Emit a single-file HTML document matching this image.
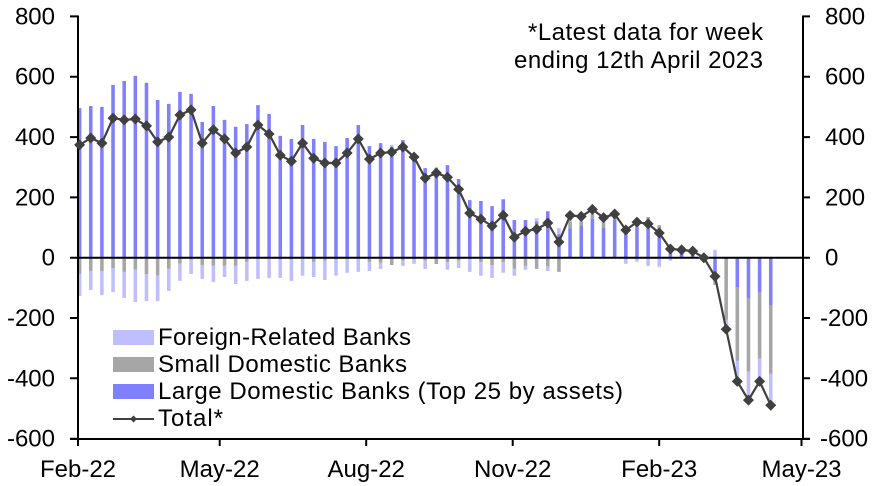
<!DOCTYPE html>
<html><head><meta charset="utf-8"><style>
html,body{margin:0;padding:0;background:#fff}
svg{display:block}
text{font-family:"Liberation Sans",Arial,sans-serif;font-size:24px;fill:#000}
</style></head><body>
<svg width="880" height="486" viewBox="0 0 880 486" xmlns="http://www.w3.org/2000/svg">
<defs>
<marker id="dm" markerUnits="userSpaceOnUse" markerWidth="12" markerHeight="12" refX="6" refY="6" overflow="visible">
<path d="M6,0.5L11.5,6L6,11.5L0.5,6Z" fill="#404040"/>
</marker>
</defs>

<g transform="translate(79.6,257.7) scale(11.1475,-0.30161)">
<path fill="#8080ff" d="M-.16,0h.32v496h-.32zM.84,0h.32v503h-.32zM1.84,0h.32v500h-.32zM2.84,0h.32v573h-.32zM3.84,0h.32v586h-.32zM4.84,0h.32v603h-.32zM5.84,0h.32v580h-.32zM6.84,0h.32v523h-.32zM7.84,0h.32v510h-.32zM8.84,0h.32v550h-.32zM9.84,0h.32v543h-.32zM10.84,0h.32v450h-.32zM11.84,0h.32v503h-.32zM12.84,0h.32v457h-.32zM13.84,0h.32v434h-.32zM14.84,0h.32v443h-.32zM15.84,0h.32v506h-.32zM16.84,0h.32v477h-.32zM17.84,0h.32v404h-.32zM18.84,0h.32v394h-.32zM19.84,0h.32v440h-.32zM20.84,0h.32v394h-.32zM21.84,0h.32v384h-.32zM22.84,0h.32v370h-.32zM23.84,0h.32v397h-.32zM24.84,0h.32v440h-.32zM25.84,0h.32v370h-.32zM26.84,0h.32v380h-.32zM27.84,0h.32v367h-.32zM28.84,0h.32v390h-.32zM29.84,0h.32v345h-.32zM30.84,0h.32v297h-.32zM31.84,0h.32v297h-.32zM32.84,0h.32v307h-.32zM33.84,0h.32v261h-.32zM34.84,0h.32v191h-.32zM35.84,0h.32v188h-.32zM36.84,0h.32v171h-.32zM37.84,0h.32v194h-.32zM38.84,0h.32v125h-.32zM39.84,0h.32v125h-.32zM40.84,0h.32v121h-.32zM41.84,0h.32v154h-.32zM42.84,0h.32v78h-.32zM43.84,0h.32v98h-.32zM44.84,0h.32v105h-.32zM45.84,0h.32v131h-.32zM46.84,0h.32v101h-.32zM47.84,0h.32v127h-.32zM48.84,0h.32v78h-.32zM49.84,0h.32v101h-.32zM50.84,0h.32v98h-.32zM51.84,0h.32v68h-.32zM52.84,0h.32v39h-.32zM53.84,0h.32v19h-.32zM54.84,0h.32v10h-.32zM56.84,0h.32v-52h-.32zM57.84,0h.32v-7h-.32zM58.84,0h.32v-97h-.32zM59.84,0h.32v-136h-.32zM60.84,0h.32v-116h-.32zM61.84,0h.32v-159h-.32z"/>
<path fill="#a6a6a6" d="M-.16,0h.32v-54h-.32zM.84,0h.32v-44h-.32zM1.84,0h.32v-44h-.32zM2.84,0h.32v-34h-.32zM3.84,0h.32v-47h-.32zM4.84,0h.32v-40h-.32zM5.84,0h.32v-54h-.32zM6.84,0h.32v-60h-.32zM7.84,0h.32v-37h-.32zM8.84,0h.32v-20h-.32zM9.84,0h.32v-7h-.32zM10.84,0h.32v-24h-.32zM11.84,0h.32v-27h-.32zM12.84,0h.32v-27h-.32zM13.84,0h.32v-27h-.32zM14.84,0h.32v-14h-.32zM15.84,0h.32v-3h-.32zM16.84,0h.32v-3h-.32zM17.84,0h.32v-7h-.32zM18.84,0h.32v-7h-.32zM19.84,0h.32v-3h-.32zM20.84,0h.32v-14h-.32zM21.84,0h.32v-10h-.32zM22.84,0h.32v-7h-.32zM23.84,0h.32v-5h-.32zM24.84,0h.32v-5h-.32zM25.84,0h.32v-14h-.32zM26.84,0h.32v-17h-.32zM27.84,0h.32v-24h-.32zM28.84,0h.32v-10h-.32zM29.84,0h.32v-5h-.32zM30.84,0h.32v-10h-.32zM31.84,0h.32v-21h-.32zM32.84,0h.32v-15h-.32zM33.84,0h.32v-10h-.32zM34.84,0h.32v-5h-.32zM35.84,0h.32v-15h-.32zM36.84,0h.32v-25h-.32zM37.84,0h.32v-15h-.32zM38.84,0h.32v-37h-.32zM39.84,0h.32v-27h-.32zM40.84,0h.32v-37h-.32zM41.84,0h.32v-30h-.32zM42.84,0h.32v-47h-.32zM43.84,98h.32v23h-.32zM44.84,105h.32v16h-.32zM45.84,131h.32v15h-.32zM46.84,101h.32v17h-.32zM47.84,127h.32v8h-.32zM48.84,78h.32v20h-.32zM49.84,101h.32v17h-.32zM50.84,98h.32v37h-.32zM51.84,68h.32v40h-.32zM53.84,19h.32v7h-.32zM54.84,10h.32v12h-.32zM56.84,-52h.32v-38h-.32zM57.84,-7h.32v-199h-.32zM58.84,-97h.32v-245h-.32zM59.84,-136h.32v-242h-.32zM60.84,-116h.32v-219h-.32zM61.84,-159h.32v-226h-.32z"/>
<path fill="#bfbfff" d="M-.16,-54h.32v-73h-.32zM.84,-44h.32v-63h-.32zM1.84,-44h.32v-80h-.32zM2.84,-34h.32v-80h-.32zM3.84,-47h.32v-86h-.32zM4.84,-40h.32v-107h-.32zM5.84,-54h.32v-90h-.32zM6.84,-60h.32v-84h-.32zM7.84,-37h.32v-73h-.32zM8.84,-20h.32v-57h-.32zM9.84,-7h.32v-47h-.32zM10.84,-24h.32v-46h-.32zM11.84,-27h.32v-53h-.32zM12.84,-27h.32v-37h-.32zM13.84,-27h.32v-60h-.32zM14.84,-14h.32v-63h-.32zM15.84,-3h.32v-67h-.32zM16.84,-3h.32v-64h-.32zM17.84,-7h.32v-60h-.32zM18.84,-7h.32v-70h-.32zM19.84,-3h.32v-57h-.32zM20.84,-14h.32v-50h-.32zM21.84,-10h.32v-64h-.32zM22.84,-7h.32v-53h-.32zM23.84,-5h.32v-45h-.32zM24.84,-5h.32v-42h-.32zM25.84,-14h.32v-30h-.32zM26.84,-17h.32v-20h-.32zM27.84,367h.32v7h-.32zM28.84,-10h.32v-17h-.32zM29.84,-5h.32v-15h-.32zM30.84,-10h.32v-27h-.32zM31.84,297h.32v3h-.32zM32.84,-15h.32v-25h-.32zM33.84,-10h.32v-24h-.32zM34.84,-5h.32v-42h-.32zM35.84,-15h.32v-45h-.32zM36.84,-25h.32v-42h-.32zM37.84,-15h.32v-35h-.32zM38.84,-37h.32v-23h-.32zM39.84,-27h.32v-13h-.32zM40.84,121h.32v10h-.32zM41.84,-30h.32v-14h-.32zM42.84,78h.32v20h-.32zM43.84,121h.32v18h-.32zM44.84,121h.32v15h-.32zM45.84,146h.32v14h-.32zM46.84,118h.32v15h-.32zM47.84,135h.32v10h-.32zM48.84,0h.32v-20h-.32zM49.84,0h.32v-13h-.32zM50.84,0h.32v-27h-.32zM51.84,0h.32v-30h-.32zM52.84,0h.32v-10h-.32zM56.84,0h.32v26h-.32zM57.84,-206h.32v-17h-.32zM58.84,-342h.32v-63h-.32zM59.84,-378h.32v-94h-.32zM60.84,-335h.32v-70h-.32zM61.84,-385h.32v-104h-.32z"/>
</g>

<g stroke="#000" stroke-width="2" fill="none">
<line x1="78" y1="257.7" x2="803" y2="257.7"/>
<line x1="78" y1="15.5" x2="78" y2="440"/>
<line x1="803" y1="15.5" x2="803" y2="440"/>
<line x1="70" y1="439" x2="810" y2="439"/>
<path d="M70,16.4H78M70,76.7H78M70,137.1H78M70,197.4H78M70,257.7H78M70,318H78M70,378.3H78M70,438.7H78"/>
<path d="M803,16.4H810M803,76.7H810M803,137.1H810M803,197.4H810M803,257.7H810M803,318H810M803,378.3H810M803,438.7H810"/>
<path d="M78,439V446M219.7,439V446M366.2,439V446M512.7,439V446M659.2,439V446M801.5,439V446"/>
</g>

<polyline fill="none" stroke="#404040" stroke-width="2.2" stroke-linejoin="round" marker-start="url(#dm)" marker-mid="url(#dm)" marker-end="url(#dm)"
points="79.6,144.9 90.75,138 101.9,143.1 113.04,118.1 124.19,119.9 135.34,119 146.49,125.9 157.63,141.9 168.78,137.1 179.93,115 191.08,109.9 202.22,143.1 213.37,129.8 224.52,138.9 235.67,153 246.81,147 257.96,125 269.11,134 280.26,155.2 291.4,161.2 302.55,143.1 313.7,158.2 324.85,163 335.99,163 347.14,153 358.29,138.9 369.44,159.1 380.58,153 391.73,152.1 402.88,147 414.03,157 425.17,178.1 436.32,173 447.47,177.2 458.62,189.2 469.76,213.1 480.91,219.1 492.06,226 503.21,215.2 514.35,237.2 525.5,231.2 536.65,229.1 547.8,223 558.94,242 570.09,215.5 581.24,216.4 592.39,209.4 603.53,217.6 614.68,214 625.83,230 636.98,222.1 648.12,223.9 659.27,233 670.42,249 681.57,249.9 692.71,251.1 703.86,257.7 715.01,276.4 726.16,329.2 737.3,381.4 748.45,400.1 759.6,381.4 770.75,405.2"/>

<g text-anchor="end">
<text x="55" y="24.4">800</text>
<text x="55" y="84.7">600</text>
<text x="55" y="145.1">400</text>
<text x="55" y="205.4">200</text>
<text x="55" y="265.7">0</text>
<text x="55" y="326">-200</text>
<text x="55" y="386.3">-400</text>
<text x="55" y="446.7">-600</text>
</g>
<g text-anchor="start">
<text x="825" y="24.4">800</text>
<text x="825" y="84.7">600</text>
<text x="825" y="145.1">400</text>
<text x="825" y="205.4">200</text>
<text x="825" y="265.7">0</text>
<text x="820" y="326">-200</text>
<text x="820" y="386.3">-400</text>
<text x="820" y="446.7">-600</text>
</g>
<g text-anchor="middle">
<text x="78" y="477">Feb-22</text>
<text x="219.7" y="477">May-22</text>
<text x="366.2" y="477">Aug-22</text>
<text x="512.7" y="477">Nov-22</text>
<text x="659.2" y="477">Feb-23</text>
<text x="801.5" y="477">May-23</text>
</g>

<text x="763" y="40" text-anchor="end" textLength="235">*Latest data for week</text>
<text x="763" y="68" text-anchor="end" textLength="249">ending 12th April 2023</text>

<rect x="113" y="330" width="41" height="15" fill="#bfbfff"/>
<rect x="113" y="357" width="41" height="15" fill="#a6a6a6"/>
<rect x="113" y="384" width="41" height="15" fill="#8080ff"/>
<line x1="113" y1="419" x2="154" y2="419" stroke="#404040" stroke-width="2"/>
<path d="M133.5,415.5L137,419L133.5,422.5L130,419Z" fill="#404040"/>
<text x="158" y="345" textLength="253">Foreign-Related Banks</text>
<text x="158" y="372" textLength="249">Small Domestic Banks</text>
<text x="158" y="399" textLength="465">Large Domestic Banks (Top 25 by assets)</text>
<text x="158" y="426" textLength="65">Total*</text>
</svg>
</body></html>
